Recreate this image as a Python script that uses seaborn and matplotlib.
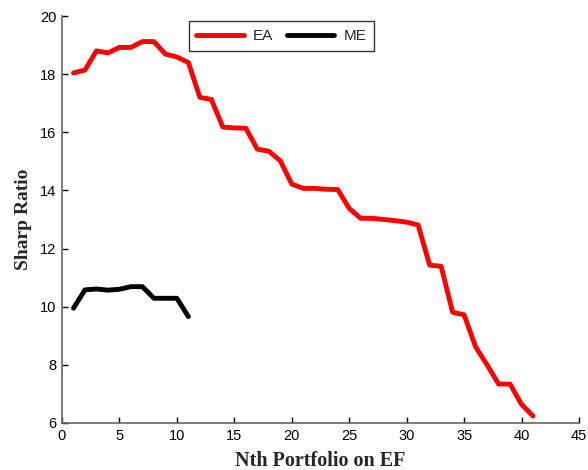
import matplotlib
matplotlib.use("Agg")
import matplotlib.pyplot as plt
import seaborn as sns
import pandas as pd

ea_x = list(range(1, 42))
ea_y = [18.04, 18.14, 18.8, 18.73, 18.92, 18.92, 19.12, 19.12, 18.69, 18.59,
        18.4, 17.2, 17.13, 16.18, 16.15, 16.14, 15.42, 15.35, 15.02, 14.22,
        14.07, 14.07, 14.04, 14.03, 13.38, 13.04, 13.04, 13.0, 12.96, 12.91,
        12.81, 11.43, 11.39, 9.81, 9.72, 8.62, 8.0, 7.34, 7.34, 6.64, 6.24]
me_x = list(range(1, 12))
me_y = [9.95, 10.58, 10.61, 10.57, 10.6, 10.69, 10.69, 10.29, 10.29, 10.29, 9.66]

x_ticks = list(range(0, 46, 5))
y_ticks = list(range(6, 21, 2))

df = pd.concat([
    pd.DataFrame({"x": ea_x, "y": ea_y, "series": "EA"}),
    pd.DataFrame({"x": me_x, "y": me_y, "series": "ME"}),
])

sns.set_style("white")
plt.rcParams['font.family'] = ['Liberation Sans', 'DejaVu Sans']

fig = plt.figure(figsize=(5.88, 4.70), dpi=100)
ax = fig.add_axes([62/588, 1-423/470, (579-62)/588, (423-16)/470])

sns.lineplot(data=df, x="x", y="y", hue="series",
             palette={"EA": "#ff0000", "ME": "#000000"},
             linewidth=3.5, ax=ax, legend=True)

ax.set_xlim(0, 45)
ax.set_ylim(6, 20)
ax.set_xticks(x_ticks)
ax.set_yticks(y_ticks)
ax.tick_params(direction="in", length=4, width=1, labelsize=10.5,
               colors="#000000", pad=4, bottom=True, left=True)
for s in ["top", "right"]:
    ax.spines[s].set_visible(False)
for s in ["left", "bottom"]:
    ax.spines[s].set_color("#666666")
    ax.spines[s].set_linewidth(1.2)

ax.set_xlabel("Nth Portfolio on EF", fontfamily="Liberation Serif",
              fontweight="bold", fontsize=14.5, labelpad=6)
ax.set_ylabel("Sharp Ratio", fontfamily="Liberation Serif",
              fontweight="bold", fontsize=14, labelpad=6)

leg = ax.legend(loc="center", bbox_to_anchor=(0.424, 0.951), ncol=2,
                frameon=True, fancybox=False, edgecolor="#000000",
                fontsize=11, handlelength=3.1, columnspacing=0.9,
                handletextpad=0.6, borderpad=0.5, borderaxespad=0)
leg.get_frame().set_linewidth(1.0)
for line in leg.get_lines():
    line.set_linewidth(3.5)

fig.savefig("out.png", dpi=100)
